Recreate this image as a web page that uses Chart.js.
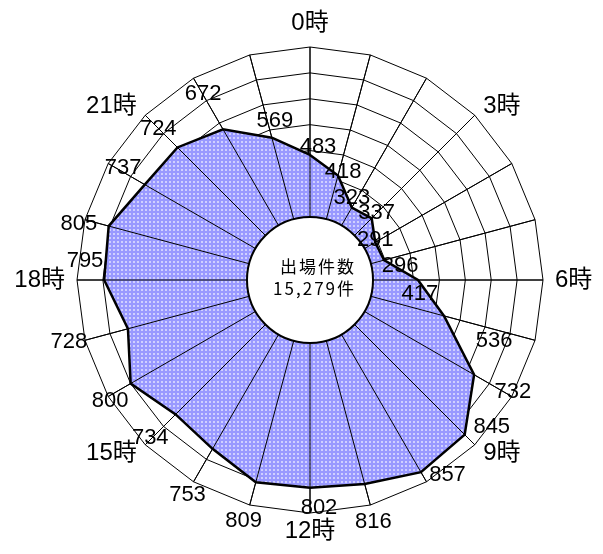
<!DOCTYPE html>
<html>
<head>
<meta charset="utf-8">
<script src="https://cdn.jsdelivr.net/npm/chart.js@4/dist/chart.umd.min.js"></script>
<style>
html,body{margin:0;padding:0;background:#ffffff;}
canvas{display:block;}
</style>
</head>
<body>
<canvas id="c" width="603" height="554"></canvas>
<script>
// ---- data ----
const hours = ['0時','1時','2時','3時','4時','5時','6時','7時','8時','9時','10時','11時',
               '12時','13時','14時','15時','16時','17時','18時','19時','20時','21時','22時','23時'];
const counts = [483,418,323,337,291,296,417,536,732,845,857,816,
                802,809,753,734,800,728,795,805,737,724,672,569];
const scaleMin = 0;
const scaleMax = 900;
const scaleStep = 100;
const centerTitle = '出場件数';
const unit = '件';

// ---- label layout (text nudges in px, not data) ----
const labelNudge = [[8,-8],[5,-4],[0,-10],[5,-5],[0,-2],[16,6],[2,14],[50,25],
                    [1,-5],[17,-18],[21,-7],[3,17],[9,-5],[-6,16],[-6,13],[5,-7],
                    [2,4],[-16,2],[8,-19],[-6,4],[15,4],[13,14],[-20,-35],[3,-17]];

function makePattern(){
  const c = document.createElement('canvas');
  c.width = 4; c.height = 4;
  const g = c.getContext('2d');
  g.fillStyle = '#9999ff'; g.fillRect(0,0,4,4);
  g.fillStyle = '#d0d0ff'; g.fillRect(1,1,2,2);
  return g.createPattern(c,'repeat');
}

const total = counts.reduce((a,b)=>a+b,0);

const overlay = {
  id:'overlay',
  afterDatasetDraw(chart, args){
    if (args.index !== 0) return;
    const s = chart.scales.r, ctx = chart.ctx;
    ctx.save();
    ctx.strokeStyle = '#000'; ctx.lineWidth = 1;
    for (let i=0;i<hours.length;i++){
      const p = s.getPointPositionForValue(i, s.max);
      ctx.beginPath(); ctx.moveTo(s.xCenter, s.yCenter); ctx.lineTo(p.x, p.y); ctx.stroke();
    }
    ctx.restore();
  },
  afterDatasetsDraw(chart){
    const s = chart.scales.r, ctx = chart.ctx;
    const cx = s.xCenter, cy = s.yCenter;
    ctx.save();
    // centre disc
    ctx.beginPath(); ctx.arc(cx, cy, 63, 0, Math.PI*2);
    ctx.fillStyle = '#fff'; ctx.fill();
    ctx.lineWidth = 2; ctx.strokeStyle = '#000'; ctx.stroke();
    // centre text
    ctx.fillStyle = '#000';
    ctx.font = '17px "Noto Sans CJK JP", sans-serif';
    ctx.letterSpacing = '2px';
    ctx.textAlign = 'right'; ctx.textBaseline = 'middle';
    ctx.fillText(centerTitle, cx + 46, cy - 13);
    ctx.fillText(total.toLocaleString('en-US') + unit, cx + 46, cy + 9);
    ctx.letterSpacing = '0px';
    // hour labels
    ctx.font = '24px "Liberation Sans", "Noto Sans CJK JP", sans-serif';
    hours.forEach((h,i)=>{
      if (i % 3) return;
      const p = s.getPointPosition(i, s.drawingArea + 12);
      const dx = p.x - cx, dy = p.y - cy;
      let y = p.y;
      if (Math.abs(dx) < 1){ ctx.textAlign = 'center'; y += (dy < 0 ? -12 : 6); }
      else ctx.textAlign = dx > 0 ? 'left' : 'right';
      ctx.fillText(h, p.x, y);
    });
    // value labels
    ctx.font = '22px "Liberation Sans Narrow", "Liberation Sans", sans-serif';
    ctx.textAlign = 'center';
    counts.forEach((v,i)=>{
      const a = v >= 700 ? s.getPointPositionForValue(i, s.max) : s.getPointPositionForValue(i, v);
      const n = labelNudge[i];
      ctx.fillText(String(v), a.x + n[0], a.y + n[1]);
    });
    ctx.restore();
  }
};

new Chart(document.getElementById('c'), {
  type:'radar',
  data:{
    labels: hours,
    datasets:[
      { data: counts, backgroundColor: makePattern(), borderColor:'transparent', borderWidth:0,
        fill:true, pointRadius:0, order:2 },
      { data: counts, backgroundColor:'transparent', borderColor:'#000', borderWidth:2.5,
        fill:false, pointRadius:0, order:1 }
    ]
  },
  options:{
    responsive:false,
    devicePixelRatio:1,
    animation:false,
    layout:{ padding:{ left:77, right:60, top:47, bottom:41 } },
    plugins:{ legend:{display:false}, tooltip:{enabled:false} },
    elements:{ line:{ tension:0 } },
    scales:{
      r:{
        min: scaleMin, max: scaleMax,
        ticks:{ display:false, stepSize: scaleStep },
        grid:{ color:'#000', lineWidth:1, circular:false },
        angleLines:{ color:'#000', lineWidth:1 },
        pointLabels:{ display:false }
      }
    }
  },
  plugins:[overlay]
});
</script>
</body>
</html>
